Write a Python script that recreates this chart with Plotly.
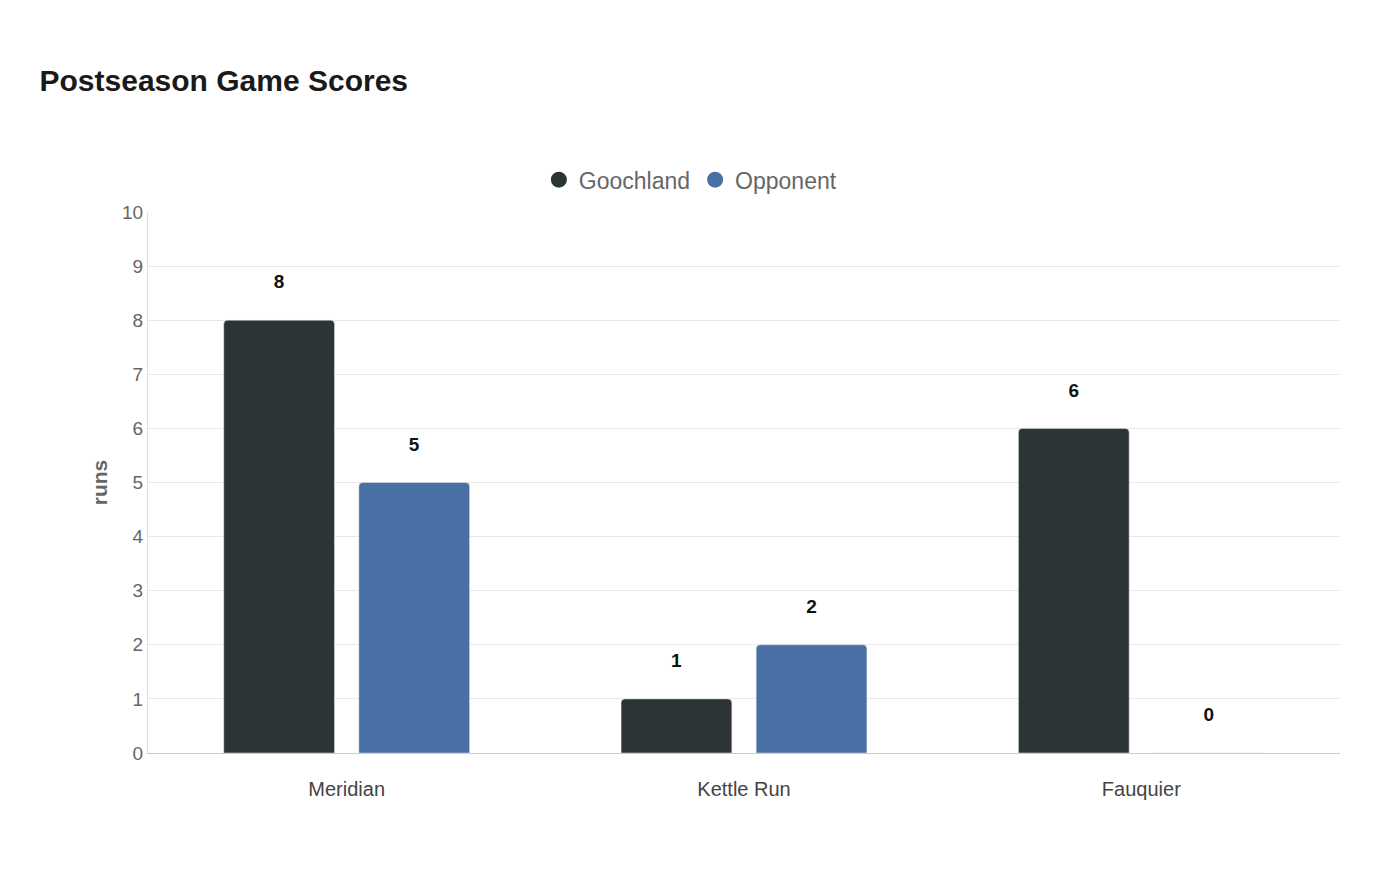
import plotly.graph_objects as go

opponents = ["Meridian", "Kettle Run", "Fauquier"]
goochland = [8, 1, 6]
opponent = [5, 2, 0]

DARK = "#2d3436"
BLUE = "#4a6fa5"

fig = go.Figure()
for name, vals, col in [("Goochland", goochland, DARK), ("Opponent", opponent, BLUE)]:
    fig.add_trace(go.Bar(
        x=opponents, y=vals, name=name, marker_color=col, showlegend=False,
        text=vals, texttemplate="%{y}<br> ", textposition="outside", cliponaxis=False,
        textfont=dict(size=19, color="#111", family="Liberation Sans", weight="bold"),
    ))
    # legend entry with round marker
    fig.add_trace(go.Scatter(
        x=[None], y=[None], mode="markers", name=name,
        marker=dict(size=32, color=col, symbol="circle"),
    ))

fig.update_layout(
    width=1400, height=880,
    paper_bgcolor="white", plot_bgcolor="white",
    font=dict(family="Liberation Sans", color="#555"),
    title=dict(text="<b>Postseason Game Scores</b>", x=0.0225, y=0.93,
               font=dict(size=30, color="#1a1a1a")),
    barmode="group", bargap=0.32, bargroupgap=0.18, barcornerradius=4,
    legend=dict(orientation="h", x=0.455, xanchor="center", y=1.02, yanchor="bottom",
                font=dict(size=23, color="#666"), itemsizing="trace"),
    margin=dict(l=140, r=68, t=204, b=135),
    uniformtext=dict(minsize=19, mode="show"),
)
fig.update_yaxes(range=[0, 10], dtick=1, showgrid=True, gridcolor="#e8e8e8",
                 tickfont=dict(size=19, color="#666"), ticklen=10, tickcolor="white",
                 zeroline=False, showline=True, linecolor="#ddd",
                 title=dict(text="<b>runs</b>", font=dict(size=21, color="#666"), standoff=8))
fig.update_xaxes(showline=True, linecolor="#ccc", ticks="outside", ticklen=18,
                 tickcolor="white", tickfont=dict(size=20, color="#444"))

fig.write_html("out.html")
